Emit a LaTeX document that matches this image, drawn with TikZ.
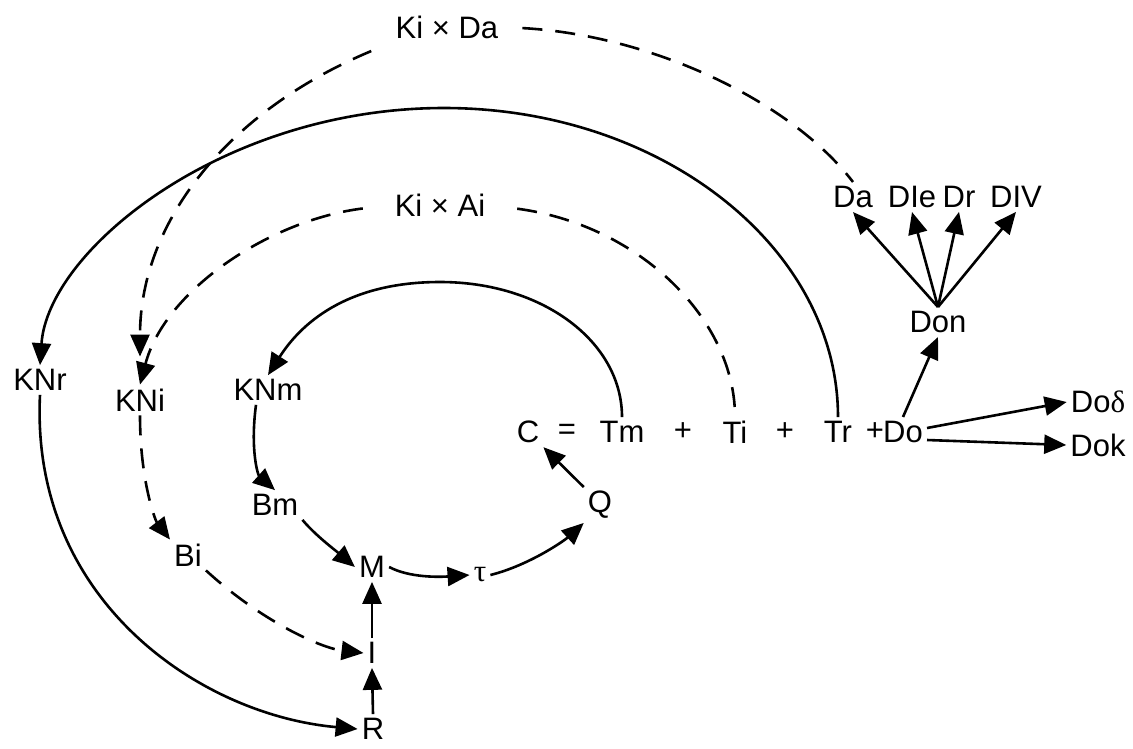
\documentclass[tikz,border=0pt]{standalone}
\usepackage{fontspec}
\setmainfont{Liberation Sans}
\newfontfamily\grkfont{Liberation Serif}
\usetikzlibrary{arrows.meta}

\begin{document}
\begin{tikzpicture}[x=1pt,y=-1pt,
  var/.style={inner sep=4pt,font=\fontsize{31}{37}\selectfont},
  flow/.style={-{Triangle[length=22pt,width=19pt]},line width=2.6pt},
  dflow/.style={flow,dash pattern=on 20pt off 13pt},
  dline/.style={line width=2.6pt,dash pattern=on 20pt off 13pt}
]
  \useasboundingbox (0,0) rectangle (1133,748);
  % labels of the couplings
  \node[var](kida) at (447,27) {Ki × Da};
  \node[var](kiai) at (440,205) {Ki × Ai};
  % equation line
  \node[var](c) at (528,432) {C};
  \node[var](eq) at (567,432) {=};
  \node[var](tm) at (622,432) {Tm};
  \node[var](p1) at (683,432) {+};
  \node[var](ti) at (735,432) {Ti};
  \node[var](p2) at (785,432) {+};
  \node[var](tr) at (838,432) {Tr};
  \node[var](p3) at (875,432) {+};
  \node[var](do) at (903,432) {Do};
  % outputs of Do
  \node[var](don) at (938,322) {Don};
  \node[var](da) at (853,197) {Da};
  \node[var](dle) at (912,197) {DIe};
  \node[var](dr) at (959,197) {Dr};
  \node[var](div) at (1016,197) {DIV};
  \node[var](dod) at (1098,402) {Do{\grkfont δ}};
  \node[var](dok) at (1098,445) {Dok};
  % cycle
  \node[var](knr) at (40,380) {KNr};
  \node[var](kni) at (140,400) {KNi};
  \node[var](knm) at (268,390) {KNm};
  \node[var](bm) at (275,505) {Bm};
  \node[var](bi) at (188,555) {Bi};
  \node[var](m) at (372,567) {M};
  \node[var](tau) at (480,575) {{\grkfont τ}};
  \node[var](q) at (600,505) {Q};
  \node[var](i) at (372,653) {I};
  \node[var](r) at (373,729) {R};

  \draw[flow](tm.north) .. controls (622,342) and (543,282) .. (440,282)
    .. controls (345,282) and (300,325) .. (knm.north);
  \draw[flow](tr.north) .. controls (838,247) and (661,108) .. (444,108)
    .. controls (223,108) and (48,250) .. (knr.north);
  \draw[dline,shorten <=20pt](kida.east) .. controls (650,35) and (790,100) .. (da.north);
  \draw[dflow,shorten <=22pt,shorten >=28pt](kida.south west) .. controls (230,110) and (140,220) .. (kni.north);
  \draw[dline,shorten <=28pt](kiai.east) .. controls (640,225) and (735,320) .. (ti.north);
  \draw[dflow,shorten <=28pt](kiai.west) .. controls (270,220) and (165,290) .. (kni.north);
  \draw[flow](knr.south) .. controls (30,600) and (200,715) .. (r.west);
  \draw[dflow](kni.south) .. controls (140,480) and (155,520) .. (bi.north west);
  \draw[flow]([xshift=-12pt]knm.south) .. controls (250,450) and (258,475) .. (bm.north);
  \draw[dflow](bi.south east) .. controls (260,620) and (320,648) .. (i.west);
  \draw[flow](bm.south east) .. controls (315,535) and (335,550) .. (m.west);
  \draw[flow](m.east) .. controls (410,578) and (440,577) .. (tau.west);
  \draw[flow](tau.east) .. controls (530,565) and (565,540) .. (q.south west);
  \draw[flow](q.north west) -- (c.south east);
  \draw[flow](r.north) -- (i.south);
  \draw[flow](i.north) -- (m.south);
  \draw[flow](do.north) -- (don.south);
  \draw[flow](don.north) -- (da.south);
  \draw[flow](don.north) -- (dle.south);
  \draw[flow](don.north) -- (dr.south);
  \draw[flow](don.north) -- (div.south);
  \draw[flow]([yshift=4pt]do.east) -- (dod.west);
  \draw[flow]([yshift=-8pt]do.east) -- (dok.west);
\end{tikzpicture}
\end{document}
